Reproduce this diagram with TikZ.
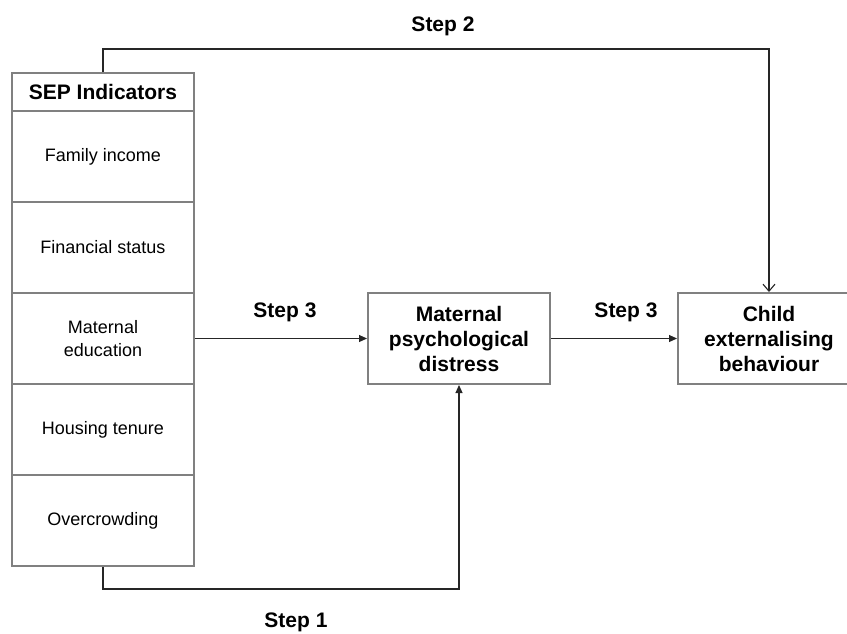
\documentclass[tikz,border=0pt]{standalone}
\usepackage{fontspec}
\setmainfont{Liberation Sans}
\usetikzlibrary{arrows.meta}
\tikzset{
  cell/.style={draw=black!50, line width=2pt, minimum width=182pt, minimum height=91pt, inner sep=0pt, align=center, font=\fontsize{18}{22.7}\selectfont},
  headcell/.style={cell, minimum height=38pt, font=\fontsize{21}{25}\selectfont\bfseries},
  bigbox/.style={cell, font=\fontsize{21}{25}\selectfont\bfseries},
  steplabel/.style={font=\fontsize{21}{25}\selectfont\bfseries, inner sep=0pt},
  conn/.style={line width=1.1pt, black!85},
  arr/.style={conn, -{Triangle[length=8pt,width=7pt]}},
  openarr/.style={conn, -{Straight Barb[length=7pt,width=12pt,line width=1.1pt]}}
}
\begin{document}
\begin{tikzpicture}[x=1pt,y=-1pt]
\useasboundingbox (0,0) rectangle (847,633);
\node[headcell] (hd) at (103,92) {SEP Indicators};
\node[cell] (r1) at (103,156.5) {Family income};
\node[cell] (r2) at (103,247.5) {Financial status};
\node[cell] (r3) at (103,338.5) {Maternal\\education};
\node[cell] (r4) at (103,429.5) {Housing tenure};
\node[cell] (r5) at (103,520.5) {Overcrowding};
\node[bigbox] (md) at (459,338.5) {Maternal\\psychological\\distress};
\node[bigbox] (ch) at (769,338.5) {Child\\externalising\\behaviour};
\coordinate (t1) at (103,49);
\coordinate (t2) at (769,49);
\coordinate (b1) at (103,589);
\coordinate (b2) at (459,589);
\draw[openarr] (hd.north) -- (t1) -- (t2) -- (ch.north);
\draw[arr] (r5.south) -- (b1) -- (b2) -- (md.south);
\draw[arr] (r3.east) -- (md.west);
\draw[arr] (md.east) -- (ch.west);
\node[steplabel] (s2) at (443,26) {Step 2};
\node[steplabel] (s3a) at (285,312) {Step 3};
\node[steplabel] (s3b) at (626,312) {Step 3};
\node[steplabel] (s1) at (296,622) {Step 1};
\end{tikzpicture}
\end{document}
